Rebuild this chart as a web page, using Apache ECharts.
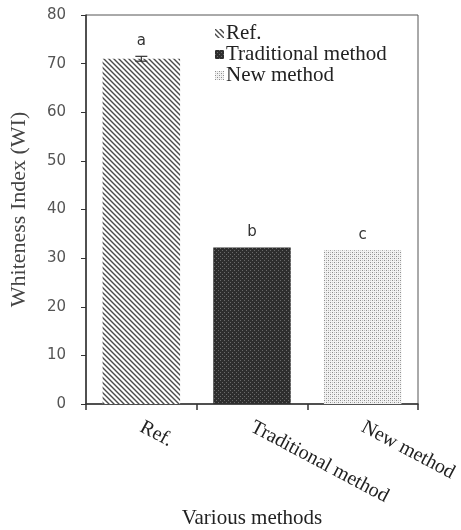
<!DOCTYPE html>
<html><head><meta charset="utf-8">
<script src="https://cdn.jsdelivr.net/npm/echarts@6/dist/echarts.min.js"></script>
<style>html,body{margin:0;padding:0;background:#fff}#c{width:461px;height:530px}</style>
</head><body><div id="c"></div>
<script>
const categories = ['Ref.', 'Traditional method', 'New method'];
const values = [71.0, 32.2, 31.6];
const errors = [0.5, 0, 0];
const letters = ['a', 'b', 'c'];
const yTicks = [0, 10, 20, 30, 40, 50, 60, 70, 80];

function pat(kind) {
  const c = document.createElement('canvas');
  const ctx = c.getContext('2d');
  if (kind === 0) {
    c.width = 5; c.height = 5;
    ctx.fillStyle = '#fff'; ctx.fillRect(0, 0, 5, 5);
    ctx.strokeStyle = '#4a4a4a'; ctx.lineWidth = 1.4;
    ctx.beginPath();
    ctx.moveTo(-1, -1); ctx.lineTo(6, 6);
    ctx.moveTo(-1, 4); ctx.lineTo(1, 6);
    ctx.moveTo(4, -1); ctx.lineTo(6, 1);
    ctx.stroke();
  } else if (kind === 1) {
    c.width = 4; c.height = 4;
    ctx.fillStyle = '#2e2e2e'; ctx.fillRect(0, 0, 4, 4);
    ctx.fillStyle = '#6a6a6a';
    ctx.fillRect(0, 0, 1, 1); ctx.fillRect(2, 2, 1, 1);
  } else {
    c.width = 4; c.height = 4;
    ctx.fillStyle = '#f2f2f2'; ctx.fillRect(0, 0, 4, 4);
    ctx.fillStyle = '#8c8c8c';
    ctx.fillRect(0, 0, 1, 1); ctx.fillRect(2, 2, 1, 1);
    ctx.fillStyle = '#c4c4c4';
    ctx.fillRect(2, 0, 1, 1); ctx.fillRect(0, 2, 1, 1);
  }
  return { image: c, repeat: 'repeat' };
}

const chart = echarts.init(document.getElementById('c'));
const series = categories.map((name, i) => ({
  name: name,
  type: 'bar',
  barWidth: '70%',
  barGap: '-100%',
  itemStyle: { color: pat(i) },
  data: categories.map((_, j) => j === i ? {
    value: values[i],
    label: {
      show: true, position: 'top', distance: i === 0 ? 10 : 8,
      formatter: letters[i],
      fontFamily: 'DejaVu Sans', fontSize: 15, color: '#333'
    }
  } : '-')
}));
series.push({
  type: 'custom',
  name: 'err',
  z: 10,
  data: values.map((v, i) => [i, v, errors[i]]),
  renderItem: function (params, api) {
    const e = api.value(2);
    if (!e) return null;
    const x = api.value(0), v = api.value(1);
    const hi = api.coord([x, v + e]);
    const lo = api.coord([x, v - e]);
    const w = 6;
    const st = { stroke: '#333', lineWidth: 1.2 };
    return {
      type: 'group',
      children: [
        { type: 'line', shape: { x1: hi[0], y1: hi[1], x2: lo[0], y2: lo[1] }, style: st },
        { type: 'line', shape: { x1: hi[0] - w, y1: hi[1], x2: hi[0] + w, y2: hi[1] }, style: st },
        { type: 'line', shape: { x1: lo[0] - w, y1: lo[1], x2: lo[0] + w, y2: lo[1] }, style: st }
      ]
    };
  }
});

chart.setOption({
  animation: false,
  backgroundColor: '#fff',
  grid: { left: 86, right: 43, top: 15, bottom: 126, show: true, borderColor: '#555', borderWidth: 1, containLabel: false, outerBoundsMode: 'none' },
  legend: {
    data: categories,
    orient: 'vertical',
    left: 210, top: 18,
    itemWidth: 9, itemHeight: 9, itemGap: 0,
    icon: 'rect',
    textStyle: { fontFamily: 'Liberation Serif', fontSize: 21, lineHeight: 20, color: '#222', padding: [0, 0, 0, -3] }
  },
  xAxis: {
    type: 'category',
    data: categories,
    name: 'Various methods',
    nameLocation: 'middle',
    nameGap: 104,
    nameMoveOverlap: false,
    nameTextStyle: { fontFamily: 'Liberation Serif', fontSize: 21, color: '#222' },
    axisLine: { lineStyle: { color: '#333', width: 1.5 } },
    axisTick: { show: true, length: 6, lineStyle: { color: '#333', width: 1.5 } },
    axisLabel: { rotate: -28, margin: 22, fontFamily: 'Liberation Serif', fontSize: 20, color: '#222' }
  },
  yAxis: {
    type: 'value',
    min: yTicks[0], max: yTicks[yTicks.length - 1], interval: 10,
    name: 'Whiteness Index (WI)',
    nameLocation: 'middle',
    nameGap: 56,
    nameMoveOverlap: false,
    nameTextStyle: { fontFamily: 'Liberation Serif', fontSize: 22, color: '#444' },
    axisLine: { show: true, lineStyle: { color: '#333', width: 1.5 } },
    axisTick: { show: true, length: 5, lineStyle: { color: '#333' } },
    splitLine: { show: false },
    axisLabel: { margin: 20, fontFamily: 'DejaVu Sans', fontSize: 15, color: '#555' }
  },
  series: series
});
</script></body></html>
